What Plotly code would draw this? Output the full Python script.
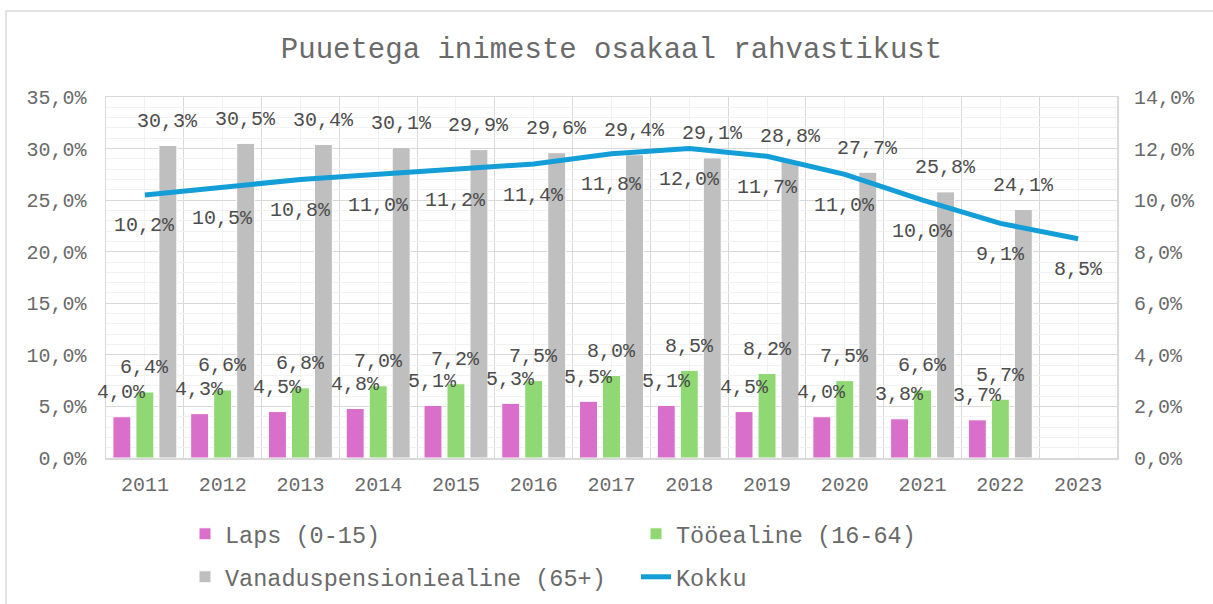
import plotly.graph_objects as go

years = ["2011", "2012", "2013", "2014", "2015", "2016", "2017", "2018", "2019", "2020", "2021", "2022", "2023"]
laps = [4.0, 4.3, 4.5, 4.8, 5.1, 5.3, 5.5, 5.1, 4.5, 4.0, 3.8, 3.7, None]
tooealine = [6.4, 6.6, 6.8, 7.0, 7.2, 7.5, 8.0, 8.5, 8.2, 7.5, 6.6, 5.7, None]
vanadus = [30.3, 30.5, 30.4, 30.1, 29.9, 29.6, 29.4, 29.1, 28.8, 27.7, 25.8, 24.1, None]
kokku = [10.2, 10.5, 10.8, 11.0, 11.2, 11.4, 11.8, 12.0, 11.7, 11.0, 10.0, 9.1, 8.5]

left_ticks = [0, 5, 10, 15, 20, 25, 30, 35]
right_ticks = [0, 2, 4, 6, 8, 10, 12, 14]

FONT = "Liberation Mono, Courier New, monospace"
TXT = "#6a6a6a"
LBL = "#4d4d4d"
C_LAPS = "#d96fcb"
C_TOO = "#8fd873"
C_VAN = "#bfbfbf"
C_KOK = "#139ed8"

xs = list(range(len(years)))


def fmt(v):
    return f"{v:.1f}".replace(".", ",") + "%"


fig = go.Figure()
series = [("Laps (0-15)", laps, C_LAPS, "legend"),
          ("Tööealine (16-64)", tooealine, C_TOO, "legend"),
          ("Vanaduspensioniealine (65+)", vanadus, C_VAN, "legend2")]
for name, vals, col, lg in series:
    fig.add_trace(go.Bar(x=xs, y=vals, name=name, marker=dict(color=col, line=dict(color="white", width=1)),
                         legend=lg, hoverinfo="skip"))

fig.add_trace(go.Scatter(x=xs, y=kokku, name="Kokku", mode="lines", yaxis="y2",
                         line=dict(color=C_KOK, width=5), legend="legend2", hoverinfo="skip"))

annotations = []
for k, (name, vals, col, lg) in enumerate(series):
    for i, v in enumerate(vals):
        if v is None:
            continue
        annotations.append(dict(x=xs[i], y=v, xref="x", yref="y", text=fmt(v), showarrow=False,
                                xshift=(k - 1) * 23, yshift=24, yanchor="middle",
                                font=dict(family=FONT, size=20, color=LBL)))
for i, v in enumerate(kokku):
    annotations.append(dict(x=xs[i], y=v, xref="x", yref="y2", text=fmt(v), showarrow=False,
                            yshift=-31, yanchor="middle",
                            font=dict(family=FONT, size=20, color=LBL)))

L, R, T, B = 106, 96, 97, 146
W, H = 1213, 604
pw, ph = W - L - R, H - T - B

fig.update_layout(
    width=W, height=H,
    margin=dict(l=L, r=R, t=T, b=B, autoexpand=False),
    paper_bgcolor="white", plot_bgcolor="white",
    separators=", ",
    barmode="group", bargap=0.113, bargroupgap=0.22,
    font=dict(family=FONT, color=TXT, size=20),
    title=dict(text="Puuetega inimeste osakaal rahvastikust", x=0.5, xref="paper",
               y=1 - 48 / H, yanchor="middle", xanchor="center",
               font=dict(family=FONT, size=29, color=TXT)),
    xaxis=dict(range=[-0.5, len(years) - 0.5], tickmode="array", tickvals=xs, ticktext=years,
               showgrid=True, gridcolor="#f2f2f2", gridwidth=1,
               minor=dict(tickmode="linear", tick0=-0.5, dtick=1, showgrid=True, gridcolor="#d9d9d9", gridwidth=1),
               showline=True, linecolor="#d9d9d9", linewidth=1.5, mirror=True,
               ticks="", ticklabelstandoff=7, zeroline=False, automargin=False,
               tickfont=dict(family=FONT, size=20, color=TXT)),
    yaxis=dict(range=[0, 35], tickmode="array", tickvals=left_ticks,
               ticktext=[fmt(t) for t in left_ticks],
               showgrid=True, gridcolor="#d9d9d9", gridwidth=1,
               minor=dict(tickmode="linear", tick0=0, dtick=1, showgrid=True, gridcolor="#f2f2f2", gridwidth=1),
               showline=True, linecolor="#d9d9d9", linewidth=1.5, mirror=True,
               ticks="", ticklabelstandoff=14, zeroline=False, automargin=False,
               tickfont=dict(family=FONT, size=20, color=TXT)),
    yaxis2=dict(range=[0, 14], overlaying="y", side="right", tickmode="array", tickvals=right_ticks,
                ticktext=[fmt(t) for t in right_ticks],
                showgrid=False, zeroline=False, ticks="", ticklabelstandoff=16, automargin=False,
                tickfont=dict(family=FONT, size=20, color=TXT)),
    legend=dict(orientation="h", x=(185 - L) / pw, xanchor="left", y=(T + ph - 534) / ph, yanchor="middle",
                entrywidth=406, font=dict(family=FONT, size=23.5, color=TXT), bgcolor="rgba(0,0,0,0)"),
    legend2=dict(orientation="h", x=(185 - L) / pw, xanchor="left", y=(T + ph - 577) / ph, yanchor="middle",
                 entrywidth=406, font=dict(family=FONT, size=23.5, color=TXT), bgcolor="rgba(0,0,0,0)"),
    annotations=annotations,
    shapes=[dict(type="rect", xref="paper", yref="paper",
                 x0=(6 - L) / pw, x1=(W + 20 - L) / pw,
                 y0=(T + ph - 11) / ph, y1=(T + ph - H - 20) / ph,
                 line=dict(color="#d9d9d9", width=1.5), fillcolor="rgba(0,0,0,0)", layer="below")],
)

fig.write_html("out.html", config={"displayModeBar": False, "staticPlot": True},
               post_script="document.body.style.margin='0';document.body.style.overflow='hidden';")
